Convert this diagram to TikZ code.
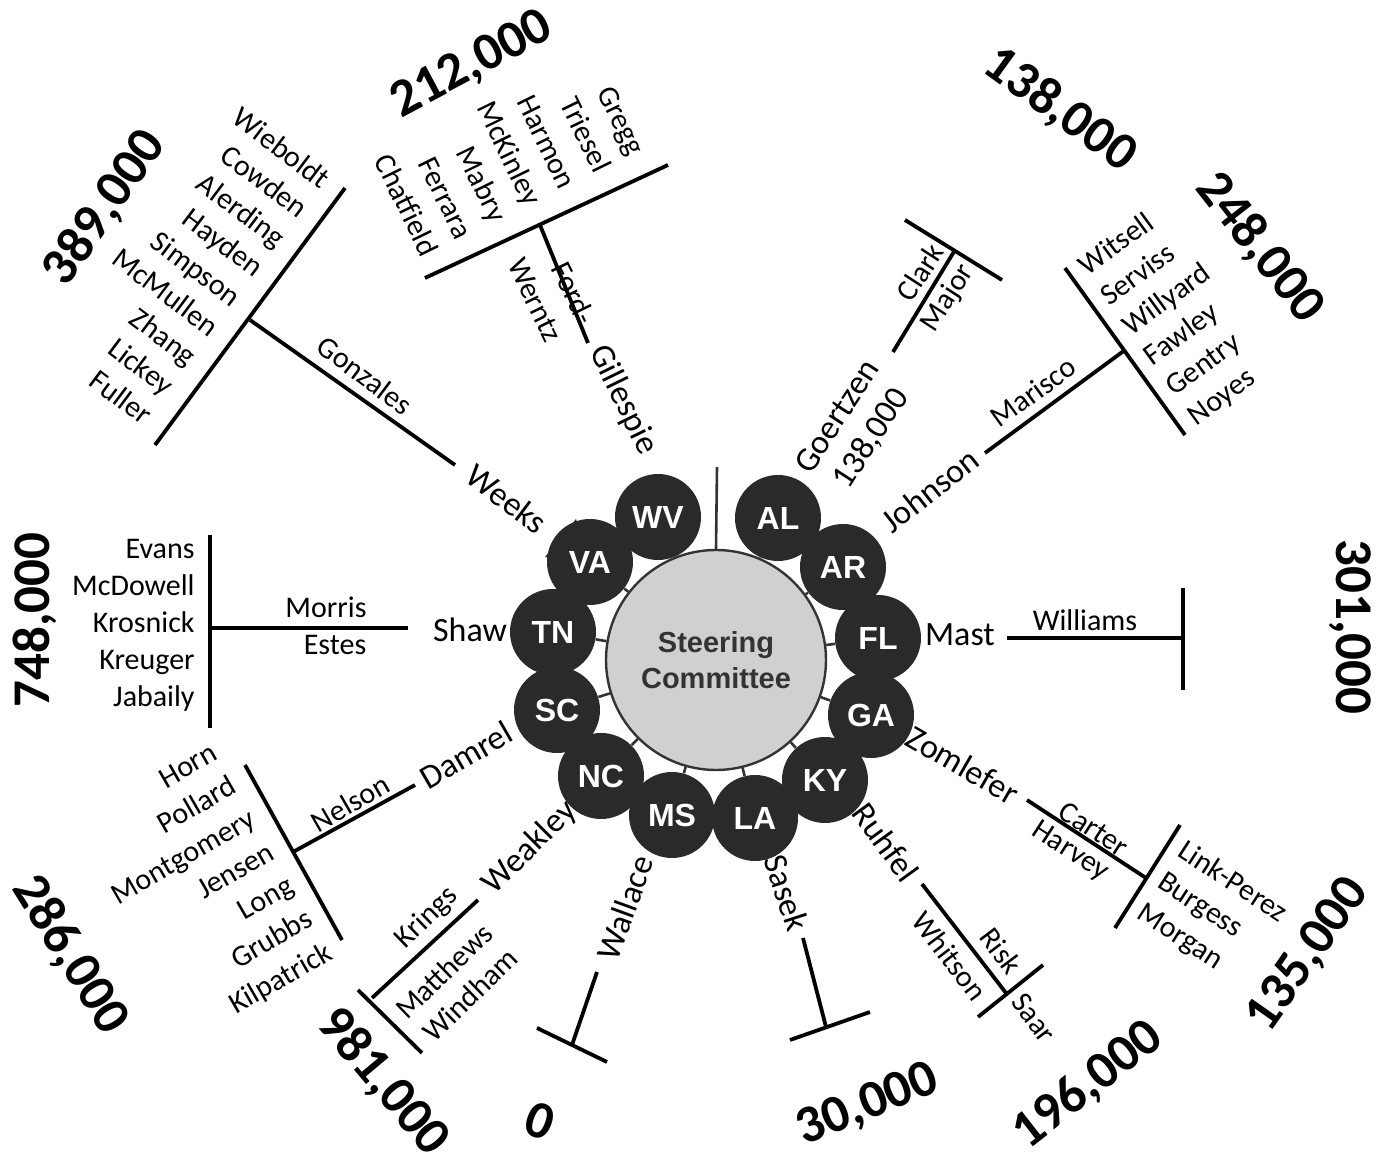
\documentclass[tikz,border=0pt]{standalone}
\usepackage{fontspec}
\setmainfont{Carlito}
\newfontfamily\arialf{Liberation Sans}
\definecolor{stfill}{HTML}{2A2A2A}
\definecolor{hubfill}{HTML}{D0D0D0}
\definecolor{hubedge}{HTML}{333333}
\begin{document}
\begin{tikzpicture}[x=0.5pt,y=-0.5pt,
  lnk/.style={line width=1.9pt,black},
  spoke/.style={line width=1.3pt,hubedge},
  nm/.style={inner sep=0pt,font=\fontsize{15}{18.5}\selectfont},
  nmw/.style={inner sep=0pt,font=\fontsize{15}{19.2}\selectfont},
  lvone/.style={inner sep=0pt,font=\fontsize{17}{20}\selectfont},
  big/.style={inner sep=0pt,font=\fontsize{26.5}{30}\selectfont\bfseries},
  st/.style={circle,fill=stfill,minimum size=43pt,inner sep=0pt,text=white,font=\arialf\bfseries\fontsize{16}{16}\selectfont},
  hub/.style={circle,fill=hubfill,draw=hubedge,line width=1.2pt,minimum size=110pt,inner sep=0pt,align=center,text=hubedge,font=\arialf\bfseries\fontsize{14.5}{18}\selectfont}
]
\useasboundingbox (0,0) rectangle (1378,1159);
% hub
\node[hub] (sc) at (716,660) {Steering\\Committee};
\coordinate (topend) at (717,467);
\draw[spoke] (topend) -- (sc.north);
% states
\fill[stfill] (590,562) -- (576,519) -- (545,557) -- cycle;
\node[st] (WV) at (658,517) {WV};
\node[st] (VA) at (590,562) {VA};
\node[st] (TN) at (553,632) {TN};
\node[st] (SC) at (557,710) {SC};
\node[st] (NC) at (601,776) {NC};
\node[st] (MS) at (672,815) {MS};
\node[st] (LA) at (755,818) {LA};
\node[st] (KY) at (825,780) {KY};
\node[st] (GA) at (871,715) {GA};
\node[st] (FL) at (878,638) {FL};
\node[st] (AR) at (843,567) {AR};
\node[st] (AL) at (778,518) {AL};
\foreach \s in {WV,VA,TN,SC,NC,MS,LA,KY,GA,FL,AR,AL} \draw[spoke] (sc) -- (\s);
% ---- Shaw (TN)
\node[lvone] (shaw) at (470,630) {Shaw};
\coordinate (shawA) at (408,628); \coordinate (shawB) at (210,628);
\coordinate (shawT) at (210,535); \coordinate (shawU) at (210,728);
\draw[lnk] (shawA) -- (shawB); \draw[lnk] (shawT) -- (shawU);
\node[nm] (morris) at (326,607) {Morris};
\node[nm] (estes) at (335,645) {Estes};
\node[nm,align=right,anchor=east] (shawlist) at (195,625) {Evans\\McDowell\\Krosnick\\Kreuger\\Jabaily};
\node[big,rotate=90] (n748) at (35,620) {748,000};
% ---- Weeks (VA)
\node[lvone,rotate=-37] (weeks) at (507,499) {Weeks};
\coordinate (wkA) at (455,465); \coordinate (wkB) at (250,320);
\coordinate (wkT) at (345,188); \coordinate (wkU) at (155,445);
\draw[lnk] (wkA) -- (wkB); \draw[lnk] (wkT) -- (wkU);
\node[nm,rotate=-37] (gonz) at (365,375) {Gonzales};
\node[nm,rotate=-37,align=right,anchor=east] (wklist) at (238,300) {Wieboldt\\Cowden\\Alerding\\Hayden\\Simpson\\McMullen\\Zhang\\Lickey\\Fuller};
\node[big,rotate=55] (n389) at (105,208) {389,000};
% ---- Gillespie (WV)
\node[lvone,rotate=-64] (gill) at (623,400) {Gillespie};
\coordinate (gA) at (588,343); \coordinate (gB) at (540,225);
\coordinate (gT) at (425,278); \coordinate (gU) at (668,165);
\draw[lnk] (gA) -- (gB); \draw[lnk] (gT) -- (gU);
\node[nm,rotate=-64] (ford) at (574,293) {Ford-};
\node[nm,rotate=-64] (werntz) at (535,300) {Werntz};
\node[nmw,rotate=-64,align=right,anchor=east] (glist) at (534,204) {Gregg\\Triesel\\Harmon\\McKinley\\Mabry\\Ferrara\\Chatfield};
\node[big,rotate=28] (n212) at (472,65) {212,000};
% ---- Goertzen (AL)
\node[lvone,rotate=57,align=center] (goer) at (855,428) {Goertzen\\138,000};
\coordinate (goA) at (893,352); \coordinate (goB) at (955,250);
\coordinate (goT) at (905,220); \coordinate (goU) at (1002,280);
\draw[lnk] (goA) -- (goB); \draw[lnk] (goT) -- (goU);
\node[nm,rotate=57] (clark) at (920,272) {Clark};
\node[nm,rotate=57] (major) at (948,298) {Major};
\node[big,rotate=-36] (n138) at (1060,110) {138,000};
% ---- Johnson (AR)
\node[lvone,rotate=38] (john) at (930,490) {Johnson};
\coordinate (jA) at (985,453); \coordinate (jB) at (1125,350);
\coordinate (jT) at (1065,268); \coordinate (jU) at (1185,435);
\draw[lnk] (jA) -- (jB); \draw[lnk] (jT) -- (jU);
\node[nm,rotate=36] (maris) at (1033,392) {Marisco};
\node[nm,rotate=36,align=left,anchor=west] (jlist) at (1137,345) {Witsell\\Serviss\\Willyard\\Fawley\\Gentry\\Noyes};
\node[big,rotate=-52] (n248) at (1260,248) {248,000};
% ---- Mast (FL)
\node[lvone] (mast) at (960,635) {Mast};
\coordinate (mA) at (1007,638); \coordinate (mB) at (1183,638);
\coordinate (mT) at (1183,588); \coordinate (mU) at (1183,690);
\draw[lnk] (mA) -- (mB); \draw[lnk] (mT) -- (mU);
\node[nm] (will) at (1085,620) {Williams};
\node[big,rotate=-90] (n301) at (1350,627) {301,000};
% ---- Zomlefer (GA)
\node[lvone,rotate=-30] (zoml) at (963,765) {Zomlefer};
\coordinate (zA) at (1027,800); \coordinate (zB) at (1146,878);
\coordinate (zT) at (1180,825); \coordinate (zU) at (1115,928);
\draw[lnk] (zA) -- (zB); \draw[lnk] (zT) -- (zU);
\node[nm,rotate=-33] (carter) at (1094,829) {Carter};
\node[nm,rotate=-33] (harvey) at (1070,852) {Harvey};
\node[nm,rotate=-33,align=left,anchor=west] (zlist) at (1160,880) {Link-Perez\\Burgess\\Morgan};
\node[big,rotate=55] (n135) at (1308,955) {135,000};
% ---- Ruhfel (KY)
\node[lvone,rotate=-54] (ruhf) at (886,842) {Ruhfel};
\coordinate (rA) at (922,884); \coordinate (rB) at (1006,993);
\coordinate (rT) at (1043,965); \coordinate (rU) at (978,1017);
\draw[lnk] (rA) -- (rB); \draw[lnk] (rT) -- (rU);
\node[nm,rotate=-53] (risk) at (1001,951) {Risk};
\node[nm,rotate=-53] (whit) at (950,956) {Whitson};
\node[nm,rotate=-53] (saar) at (1034,1018) {Saar};
\node[big,rotate=38] (n196) at (1088,1085) {196,000};
% ---- Sasek (LA)
\node[lvone,rotate=-72] (sasek) at (787,893) {Sasek};
\coordinate (sA) at (803,938); \coordinate (sB) at (826,1027);
\coordinate (sT) at (790,1040); \coordinate (sU) at (870,1012);
\draw[lnk] (sA) -- (sB); \draw[lnk] (sT) -- (sU);
\node[big,rotate=22] (n30) at (868,1105) {30,000};
% ---- Wallace (MS)
\node[lvone,rotate=70] (wall) at (625,908) {Wallace};
\coordinate (waA) at (597,972); \coordinate (waB) at (572,1045);
\coordinate (waT) at (537,1028); \coordinate (waU) at (607,1062);
\draw[lnk] (waA) -- (waB); \draw[lnk] (waT) -- (waU);
\node[big,rotate=-20] (n0) at (540,1121) {0};
% ---- Weakley (NC)
\node[lvone,rotate=45] (weak) at (530,848) {Weakley};
\coordinate (weA) at (478,900); \coordinate (weB) at (372,998);
\coordinate (weT) at (358,990); \coordinate (weU) at (422,1053);
\draw[lnk] (weA) -- (weB); \draw[lnk] (weT) -- (weU);
\node[nm,rotate=44] (krings) at (427,918) {Krings};
\node[nm,rotate=44] (matt) at (444,971) {Matthews};
\node[nm,rotate=44] (wind) at (470,995) {Windham};
\node[big,rotate=-50] (n981) at (383,1082) {981,000};
% ---- Damrel (SC)
\node[lvone,rotate=30] (damrel) at (466,755) {Damrel};
\coordinate (dA) at (415,785); \coordinate (dB) at (293,852);
\coordinate (dT) at (245,765); \coordinate (dU) at (342,940);
\draw[lnk] (dA) -- (dB); \draw[lnk] (dT) -- (dU);
\node[nm,rotate=30] (nelson) at (350,803) {Nelson};
\node[nmw,rotate=30,align=right,anchor=east] (dlist) at (273,852) {Horn\\Pollard\\Montgomery\\Jensen\\Long\\Grubbs\\Kilpatrick};
\node[big,rotate=-58] (n286) at (70,955) {286,000};
\end{tikzpicture}
\end{document}
